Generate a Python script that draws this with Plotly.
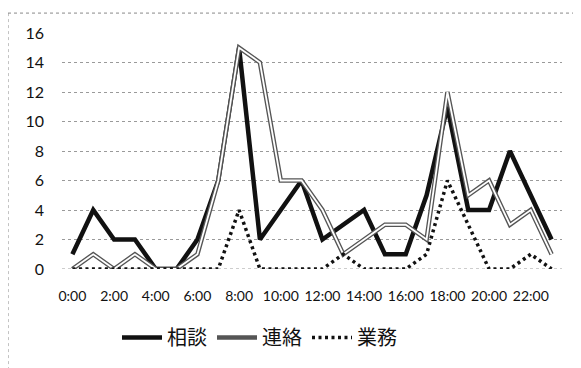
import plotly.graph_objects as go

hours = [f"{h}:00" for h in range(24)]
tick_labels = [f"{h}:00" for h in range(0, 24, 2)]

soudan = [1, 4, 2, 2, 0, 0, 2, 6, 15, 2, 4, 6, 2, 3, 4, 1, 1, 5, 11, 4, 4, 8, 5, 2]
renraku = [0, 1, 0, 1, 0, 0, 1, 6, 15, 14, 6, 6, 4, 1, 2, 3, 3, 2, 12, 5, 6, 3, 4, 1]
gyomu = [0, 0, 0, 0, 0, 0, 0, 0, 4, 0, 0, 0, 0, 1, 0, 0, 0, 1, 6, 3, 0, 0, 1, 0]

FONT = "Lato, 'Noto Sans CJK JP', sans-serif"

fig = go.Figure()
fig.add_trace(go.Scatter(x=hours, y=soudan, mode="lines", name="相談",
                         line=dict(color="#111111", width=4.5)))
fig.add_trace(go.Scatter(x=hours, y=renraku, mode="lines", name="連絡",
                         line=dict(color="#555555", width=4.5)))
fig.add_trace(go.Scatter(x=hours, y=renraku, mode="lines", showlegend=False,
                         hoverinfo="skip", line=dict(color="#ffffff", width=1.8)))
fig.add_trace(go.Scatter(x=hours, y=gyomu, mode="lines", name="業務",
                         line=dict(color="#111111", width=3.5, dash="3px,3.5px")))

fig.update_layout(
    width=573, height=360,
    margin=dict(l=54, r=19, t=25, b=98),
    paper_bgcolor="white", plot_bgcolor="white",
    font=dict(family=FONT, color="#1a1a1a"),
    showlegend=True,
    legend=dict(orientation="h", x=0.11, xanchor="left", y=-0.285, yanchor="middle",
                font=dict(size=20, family=FONT, color="#111111"),
                itemwidth=40, traceorder="normal"),
    xaxis=dict(type="category", categoryorder="array", categoryarray=hours,
               range=[-0.5, 23.5], tickmode="array", tickvals=tick_labels,
               ticktext=tick_labels, showgrid=False, zeroline=False,
               showline=False, ticks="", ticklabelstandoff=17,
               tickfont=dict(size=14, family=FONT, color="#111111")),
    yaxis=dict(range=[0, 16], tickvals=list(range(0, 17, 2)), showgrid=True,
               gridcolor="#9a9a9a", griddash="dot", gridwidth=1,
               zeroline=False, showline=False, ticks="", ticklabelstandoff=17,
               tickfont=dict(size=16, family=FONT, color="#111111")),
    shapes=[
        dict(type="line", xref="paper", yref="paper", x0=-0.108, x1=1.06,
             y0=1.0844, y1=1.0844, line=dict(color="#888888", width=1, dash="dot")),
        dict(type="line", xref="paper", yref="paper", x0=-0.108, x1=-0.108,
             y0=1.0844, y1=-0.45, line=dict(color="#888888", width=1, dash="dot")),
        dict(type="line", xref="paper", yref="y", x0=0, x1=1, y0=0, y1=0,
             line=dict(color="#9a9a9a", width=1, dash="dot"), layer="below"),
    ],
)

fig.write_html("out.html")
